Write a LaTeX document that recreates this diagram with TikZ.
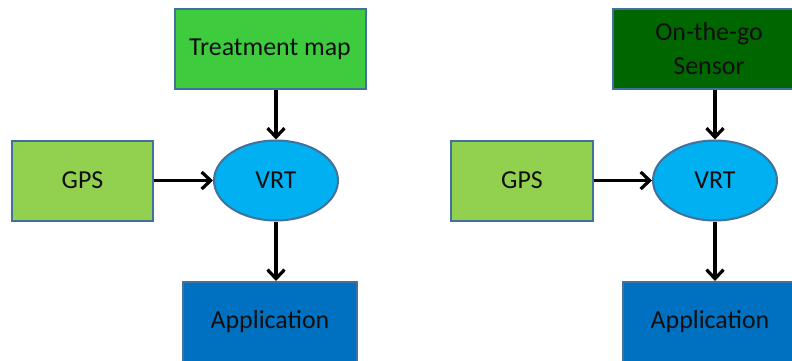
\documentclass[tikz,border=0pt]{standalone}
\usepackage{fontspec}
\setmainfont{Carlito}
\usetikzlibrary{shapes.geometric,arrows.meta}

\definecolor{edgeblue}{RGB}{65,113,156}
\definecolor{mapgreen}{RGB}{62,204,62}
\definecolor{gpsgreen}{RGB}{146,208,80}
\definecolor{sensorgreen}{RGB}{0,102,0}
\definecolor{vrtblue}{RGB}{0,176,240}
\definecolor{appblue}{RGB}{0,112,192}
\definecolor{labeltext}{RGB}{15,15,15}

\tikzset{
  box/.style={rectangle, draw=edgeblue, line width=2bp, inner sep=0pt,
    minimum height=80bp, text=labeltext, align=center,
    font=\fontsize{26}{34}\selectfont},
  hub/.style={ellipse, draw=edgeblue, line width=2bp, inner sep=0pt,
    minimum width=124bp, minimum height=80bp, fill=vrtblue, text=labeltext,
    font=\fontsize{26}{34}\selectfont},
  flow/.style={-{Straight Barb[length=9bp,width=17bp,line width=3.2bp]},
    line width=3.2bp, black},
}

\begin{document}
\begin{tikzpicture}[x=1bp, y=-1bp]
  \clip (0,0) rectangle (792,360);
  \fill[white] (0,0) rectangle (792,360);

  % map-based variable rate
  \node[box, fill=mapgreen, minimum width=191bp] (tmap) at (270,49) {Treatment map};
  \node[box, fill=gpsgreen, minimum width=141bp] (gpsA) at (82.5,180.5) {GPS};
  \node[hub] (vrtA) at (276,180.5) {VRT};
  \node[box, fill=appblue, minimum width=174bp] (appA) at (270,322) {Application};

  \draw[flow] (vrtA.north |- tmap.south) -- (vrtA.north);
  \draw[flow] (gpsA.east) -- (vrtA.west);
  \draw[flow] (vrtA.south) -- (vrtA.south |- appA.north);

  % sensor-based variable rate
  \node[box, fill=sensorgreen, minimum width=192bp] (sensor) at (709,49) {On-the-go\\Sensor};
  \node[box, fill=gpsgreen, minimum width=142bp] (gpsB) at (522,180.5) {GPS};
  \node[hub] (vrtB) at (715,180.5) {VRT};
  \node[box, fill=appblue, minimum width=174bp] (appB) at (710,322) {Application};

  \draw[flow] (vrtB.north |- sensor.south) -- (vrtB.north);
  \draw[flow] (gpsB.east) -- (vrtB.west);
  \draw[flow] (vrtB.south) -- (vrtB.south |- appB.north);
\end{tikzpicture}
\end{document}
